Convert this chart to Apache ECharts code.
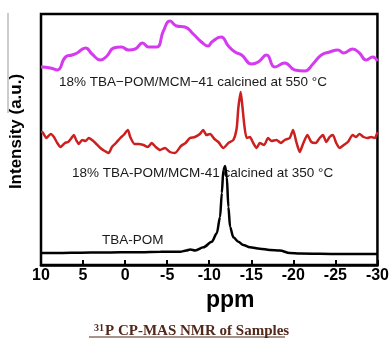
<!DOCTYPE html>
<html>
<head>
<meta charset="utf-8">
<script src="https://cdn.jsdelivr.net/npm/echarts@6/dist/echarts.min.js"></script>
<style>
  html, body { margin: 0; padding: 0; background: #fff; }
  #chart { width: 392px; height: 349px; }
</style>
</head>
<body>
<div id="chart"></div>
<script>
// [ppm, intensity]
const sample550 = [
  [10, 198], [9.85, 198], [8.85, 197], [8.07, 195], [7.08, 208], [6.3, 210], [5.71, 212],
  [4.71, 217], [3.93, 211], [2.94, 205], [2.16, 209], [1.36, 217], [0.45, 218],
  [-0.41, 215], [-1.2, 216], [-2.07, 222], [-2.78, 218], [-3.76, 218], [-4.55, 234],
  [-5.34, 244], [-6.12, 239], [-7.12, 238], [-8.1, 231], [-9.08, 223], [-9.87, 219],
  [-10.31, 223], [-11.41, 228], [-12.28, 219], [-13.07, 213], [-13.86, 210],
  [-15.04, 201], [-15.83, 203], [-16.82, 210], [-17.8, 198], [-18.98, 202],
  [-20.17, 195], [-21.35, 194], [-22.33, 201], [-23.33, 210], [-24.31, 213],
  [-25.29, 215], [-26.0, 212], [-27.06, 216], [-27.86, 212], [-28.65, 205],
  [-29.43, 208], [-30, 204]
];
const sample350 = [
  [10, 133], [9.85, 133], [9.37, 127], [8.85, 131], [8.46, 128], [8.07, 122], [7.67, 118],
  [7.16, 122], [6.77, 123], [6.37, 127], [6.1, 130], [5.82, 125], [5.5, 121],
  [5.11, 125], [4.71, 124], [4.32, 127], [3.93, 125], [3.53, 122], [2.94, 117],
  [2.43, 114], [1.96, 112], [1.57, 118], [1.09, 122], [0.57, 127], [0.18, 130],
  [-0.33, 135], [-0.61, 128], [-1.12, 121], [-1.59, 121], [-2.18, 120], [-2.69, 118],
  [-3.17, 122], [-3.64, 118], [-4.16, 115], [-4.75, 117], [-5.34, 113], [-5.93, 112],
  [-6.64, 119], [-7.19, 122], [-7.71, 127], [-8.3, 128], [-8.89, 131], [-9.28, 135],
  [-9.67, 130], [-10.11, 131], [-10.62, 126], [-11.09, 123], [-11.68, 117],
  [-12.28, 122], [-12.87, 125], [-13.27, 137], [-13.46, 157], [-13.74, 173],
  [-13.93, 160], [-14.17, 140], [-14.45, 127], [-14.84, 128], [-15.23, 122],
  [-15.63, 117], [-16.02, 122], [-16.53, 120], [-17.0, 127], [-17.41, 124],
  [-18.0, 125], [-18.51, 122], [-18.98, 125], [-19.57, 127], [-19.97, 135],
  [-20.36, 123], [-20.76, 113], [-21.15, 121], [-21.67, 130], [-22.14, 123],
  [-22.65, 122], [-23.13, 127], [-23.52, 130], [-23.92, 123], [-24.31, 128],
  [-24.7, 130], [-25.1, 122], [-25.49, 117], [-26.0, 120], [-26.48, 123],
  [-27.06, 130], [-27.46, 128], [-27.86, 131], [-28.36, 128], [-28.84, 127],
  [-29.24, 128], [-29.71, 127], [-30, 133]
];
const tbaPom = [
  [10, 12], [7.63, 12], [5.27, 12.3], [2.9, 12.5], [0.54, 12.7], [-1.83, 12.8],
  [-4.2, 13.2], [-6.56, 13.3], [-7.27, 14.5], [-7.75, 15.5], [-8.34, 14.5],
  [-9.32, 17.7], [-10.31, 23.3], [-10.9, 31.7], [-11.29, 48], [-11.5, 72],
  [-11.68, 95], [-11.89, 99], [-12.09, 88], [-12.28, 58], [-12.48, 38],
  [-12.87, 27.7], [-13.46, 23.3], [-14.05, 20], [-14.84, 17.7], [-16.02, 16.3],
  [-17.21, 15], [-18.39, 14.5], [-19.57, 12], [-20.76, 11.5], [-25.49, 11], [-30, 11]
];
const xTicks = { min: -30, max: 10, step: 5 };
const seriesLabels = [
  '18% TBA\u2212POM/MCM\u221241 calcined at 550 \u00b0C',
  '18% TBA-POM/MCM-41 calcined at 350 \u00b0C',
  'TBA-POM'
];

const chart = echarts.init(document.getElementById('chart'));
const labelFont = { fontSize: 13.5, fontFamily: 'Liberation Sans, Arial, sans-serif', fill: '#1a1a1a' };

chart.setOption({
  animation: false,
  grid: { left: 40, right: 14, top: 14, bottom: 84, show: true, borderColor: '#000', borderWidth: 2.5 },
  xAxis: {
    type: 'value',
    inverse: true,
    min: xTicks.min,
    max: xTicks.max,
    interval: xTicks.step,
    name: 'ppm',
    nameLocation: 'middle',
    nameGap: 19,
    nameTextStyle: { fontSize: 23, fontWeight: 'bold', color: '#000', fontFamily: 'Liberation Sans, Arial', padding: [0, 0, 0, 42] },
    axisLine: { show: true, lineStyle: { color: '#000', width: 2.5 } },
    axisTick: { inside: true, length: 5, lineStyle: { color: '#000', width: 2 } },
    axisLabel: { fontSize: 16, fontWeight: 'bold', color: '#000', margin: 3, fontFamily: 'Liberation Sans, Arial' },
    splitLine: { show: false }
  },
  yAxis: {
    type: 'value',
    min: 0,
    max: 251,
    name: 'Intensity (a.u.)',
    nameLocation: 'middle',
    nameGap: 16,
    nameTextStyle: { fontSize: 17, fontWeight: 'bold', color: '#000', fontFamily: 'Liberation Sans, Arial', padding: [0, 0, 0, 16] },
    axisLine: { show: false },
    axisTick: { show: false },
    axisLabel: { show: false },
    splitLine: { show: false }
  },
  title: {
    text: '{s|31}{m|P CP-MAS NMR of Samples}',
    left: 89,
    top: 318,
    textStyle: {
      rich: {
        s: { fontSize: 10, fontWeight: 'bold', fontFamily: 'Liberation Serif, Times New Roman, serif', color: '#52281a', padding: [0, 1, 6, 0] },
        m: { fontSize: 15, fontWeight: 'bold', fontFamily: 'Liberation Serif, Times New Roman, serif', color: '#52281a' }
      }
    }
  },
  graphic: [
    { type: 'line', shape: { x1: 89, y1: 337, x2: 285, y2: 337 }, style: { stroke: '#52281a', lineWidth: 1.2 } },
    { type: 'line', shape: { x1: 8, y1: 13, x2: 8, y2: 113 }, style: { stroke: '#999', lineWidth: 1 } },
    { type: 'text', x: 59, y: 82, style: Object.assign({ text: seriesLabels[0], verticalAlign: 'middle' }, labelFont) },
    { type: 'text', x: 72, y: 173, style: Object.assign({ text: seriesLabels[1], verticalAlign: 'middle' }, labelFont) },
    { type: 'text', x: 102, y: 240, style: Object.assign({ text: seriesLabels[2], verticalAlign: 'middle' }, labelFont) }
  ],
  series: [
    {
      type: 'line', data: sample550, showSymbol: false, smooth: 0.5,
      lineStyle: { color: '#d63af0', width: 3 }, z: 2
    },
    {
      type: 'line', data: sample350, showSymbol: false, smooth: 0.2,
      lineStyle: { color: '#cc1f1f', width: 2.5 }, z: 2
    },
    {
      type: 'line', data: tbaPom, showSymbol: false, smooth: 0.3, smoothMonotone: 'x',
      lineStyle: { color: '#000', width: 2.5 }, z: 1
    }
  ]
});
</script>
</body>
</html>
